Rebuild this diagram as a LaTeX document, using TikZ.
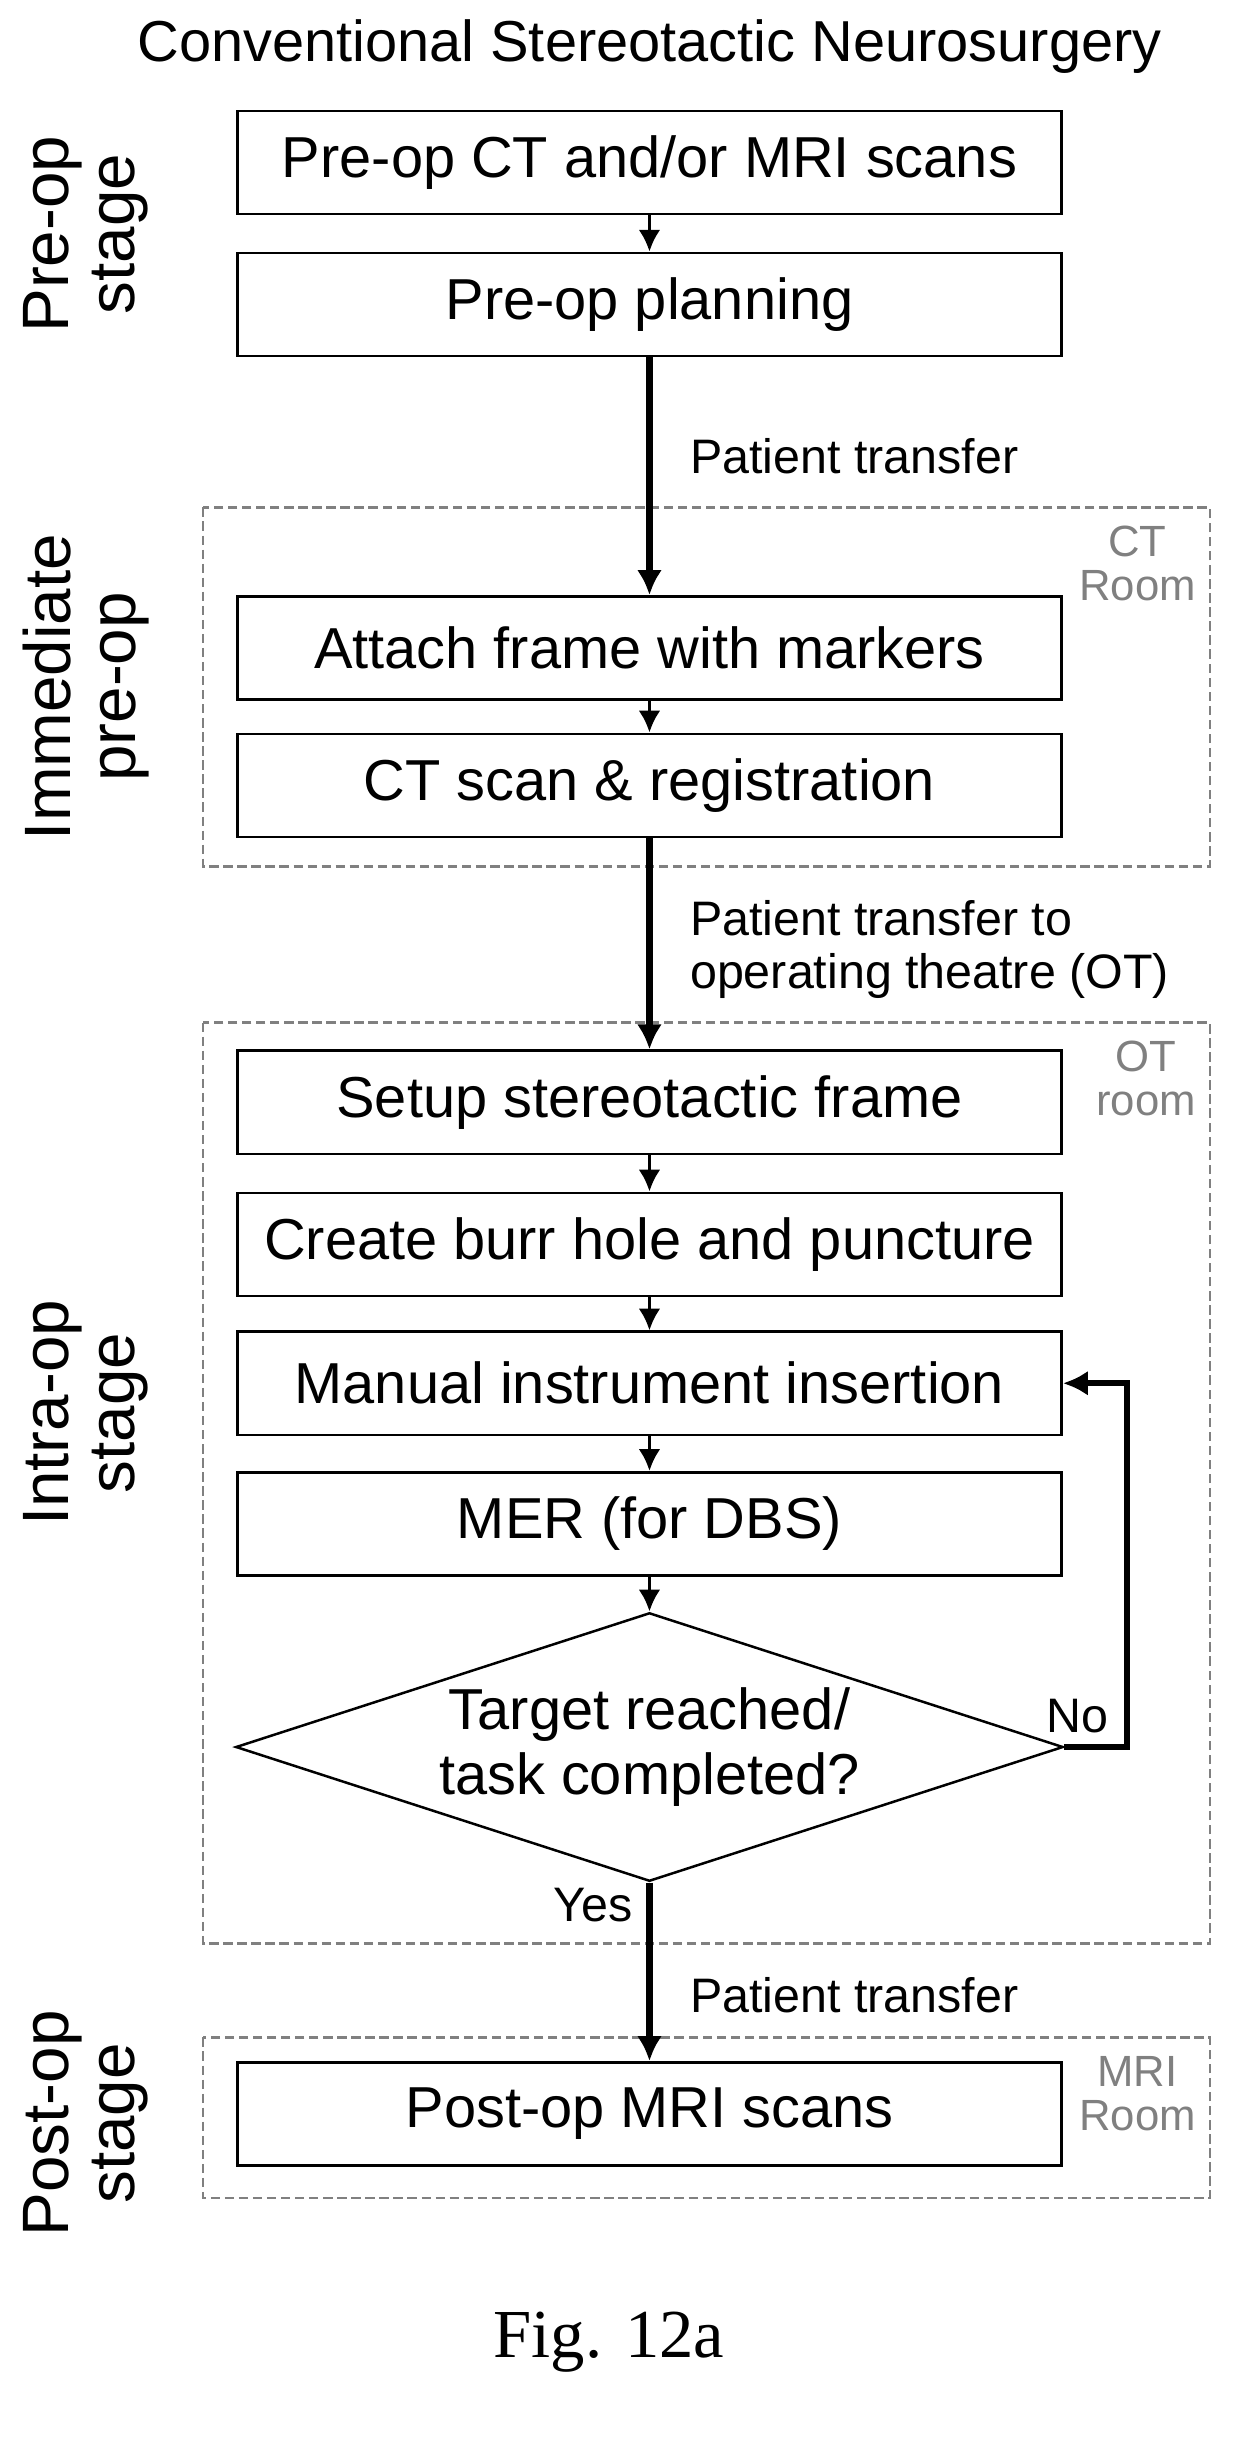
\documentclass[tikz,border=0pt]{standalone}
\usepackage{fontspec}
\setmainfont{Liberation Sans}
\newfontfamily\figfont{Liberation Serif}
\usepackage{tikz}
\usetikzlibrary{positioning,arrows.meta,shapes.geometric}
\tikzset{
    stepbox/.style={draw, thick, minimum width=264pt, minimum height=33pt, font=\fontsize{18.5}{21}\selectfont},
    check/.style={draw, thick, diamond, aspect=3.1, minimum width=265pt, minimum height=86pt, inner sep=0pt, align=center, font=\fontsize{18.5}{21}\selectfont},
    room/.style={draw=gray, thick, dash pattern=on 3pt off 1.5pt},
    roomlabel/.style={text=gray, align=center, font=\fontsize{14}{14}\selectfont},
    stage/.style={rotate=90, align=center, font=\fontsize{21}{21}\selectfont},
    note/.style={align=left, anchor=west, font=\fontsize{15.5}{17}\selectfont},
    flow/.style={-{Latex[length=7pt,width=7pt]}, line width=1.2pt},
    transfer/.style={-{Latex[length=8pt,width=8pt]}, line width=2pt}
}
\begin{document}
\begin{tikzpicture}[x=0.5pt,y=-0.5pt]
  \useasboundingbox (0,0) rectangle (790,1568);
  \node[font=\fontsize{18.5}{18}\selectfont] (title) at (416,30) {Conventional Stereotactic Neurosurgery};

  % rooms
  \draw[room] (130,325) rectangle (775,555);
  \draw[room] (130,655) rectangle (775,1245);
  \draw[room] (130,1305) rectangle (775,1408);
  \node[roomlabel, anchor=north east] (ct) at (773,330) {CT\\Room};
  \node[roomlabel, anchor=north east] (ot) at (773,660) {OT\\room};
  \node[roomlabel, anchor=north east] (mri) at (773,1310) {MRI\\Room};

  % steps
  \node[stepbox] (scan) at (416,104) {Pre-op CT and/or MRI scans};
  \node[stepbox] (plan) at (416,195) {Pre-op planning};
  \node[stepbox] (attach) at (416,415) {Attach frame with markers};
  \node[stepbox] (reg) at (416,503) {CT scan \& registration};
  \node[stepbox] (setup) at (416,706) {Setup stereotactic frame};
  \node[stepbox] (burr) at (416,797) {Create burr hole and puncture};
  \node[stepbox] (insert) at (416,886) {Manual instrument insertion};
  \node[stepbox] (mer) at (416,976) {MER (for DBS)};
  \node[check] (target) at (416,1119) {Target reached/\\task completed?};
  \node[stepbox] (post) at (416,1354) {Post-op MRI scans};
  \coordinate (loop) at (722,1119);

  % connectors
  \draw[flow] (scan) -- (plan);
  \draw[transfer] (plan) -- (attach);
  \draw[flow] (attach) -- (reg);
  \draw[transfer] (reg) -- (setup);
  \draw[flow] (setup) -- (burr);
  \draw[flow] (burr) -- (insert);
  \draw[flow] (insert) -- (mer);
  \draw[flow] (mer) -- (target);
  \draw[transfer] (target) -- (post);
  \draw[transfer] (target.east) -- (loop) |- (insert.east);

  % labels
  \node[note] (t1) at (435,292) {Patient transfer};
  \node[note] (t2) at (435,608) {Patient transfer to\\operating theatre (OT)};
  \node[note] (t3) at (435,1278) {Patient transfer};
  \node[font=\fontsize{15.5}{15}\selectfont] (no) at (690,1099) {No};
  \node[font=\fontsize{15.5}{15}\selectfont] (yes) at (380,1220) {Yes};

  % stages
  \node[stage] (s1) at (55,150) {Pre-op\\stage};
  \node[stage] (s2) at (55,440) {Immediate\\pre-op};
  \node[stage] (s3) at (55,905) {Intra-op\\stage};
  \node[stage] (s4) at (55,1360) {Post-op\\stage};

  \node[font=\figfont\fontsize{22}{22}\selectfont] (fig) at (390,1500) {Fig. 12a};
\end{tikzpicture}
\end{document}
